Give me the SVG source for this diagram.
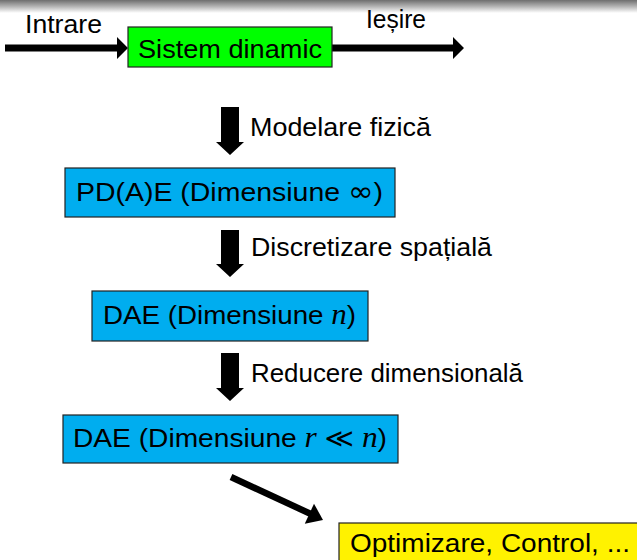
<svg xmlns="http://www.w3.org/2000/svg" width="637" height="560" viewBox="0 0 637 560">
<defs>
<linearGradient id="topband" x1="0" y1="0" x2="0" y2="1">
<stop offset="0" stop-color="#6e6e6e"/>
<stop offset="0.5" stop-color="#b4b4b4"/>
<stop offset="1" stop-color="#ffffff"/>
</linearGradient>
<style>
text{font-family:"Liberation Sans","DejaVu Sans",sans-serif;font-size:26px;fill:#000}
.m{font-family:"Liberation Serif","DejaVu Serif",serif;font-style:italic}
.sym{font-family:"DejaVu Sans",sans-serif}
.box{stroke:#222;stroke-width:1.2}
.arr{fill:#000}
</style>
</defs>
<rect x="0" y="0" width="637" height="13" fill="url(#topband)"/>
<g id="connectors">
<path class="arr" d="M5,44.5 H117 V37 L128,48 L117,59 V51.5 H5 Z"/>
<path class="arr" d="M332,44.5 H453 V37 L464,48 L453,59 V51.5 H332 Z"/>
<path class="arr" d="M221,107 H239 V142 H244 L230,155 L216,142 H221 Z"/>
<path class="arr" d="M221,230 H239 V264 H244 L230,277 L216,264 H221 Z"/>
<path class="arr" d="M221,353 H239 V388 H244 L230,401 L216,388 H221 Z"/>
<line x1="231" y1="477" x2="312" y2="514.5" stroke="#000" stroke-width="6.5"/>
<path class="arr" d="M323,520 L304.8,523.7 L314,503.7 Z"/>
<text x="25" y="33" textLength="77" lengthAdjust="spacingAndGlyphs">Intrare</text>
<text x="366" y="28" textLength="60" lengthAdjust="spacingAndGlyphs">Ieșire</text>
<text x="250" y="136" textLength="181" lengthAdjust="spacingAndGlyphs">Modelare fizică</text>
<text x="251" y="256" textLength="241" lengthAdjust="spacingAndGlyphs">Discretizare spațială</text>
<text x="251" y="382" textLength="272" lengthAdjust="spacingAndGlyphs">Reducere dimensională</text>
</g>
<g id="sistem">
<rect class="box" x="128" y="27" width="204" height="40" fill="#00ff00"/>
<text x="138" y="57.5" font-size="27" textLength="184" lengthAdjust="spacingAndGlyphs">Sistem dinamic</text>
</g>
<g id="pdae">
<rect class="box" x="65" y="168" width="330" height="49" fill="#00adef"/>
<text x="76" y="201" textLength="307" lengthAdjust="spacingAndGlyphs">PD(A)E (Dimensiune <tspan class="sym" font-size="28">∞</tspan>)</text>
</g>
<g id="dae">
<rect class="box" x="92" y="291" width="276" height="50" fill="#00adef"/>
<text x="103" y="324" textLength="253" lengthAdjust="spacingAndGlyphs">DAE (Dimensiune <tspan class="m" font-size="29">n</tspan>)</text>
</g>
<g id="dae-red">
<rect class="box" x="63" y="415" width="335" height="48" fill="#00adef"/>
<text x="73" y="447" textLength="314" lengthAdjust="spacingAndGlyphs">DAE (Dimensiune <tspan class="m" font-size="29">r</tspan> <tspan class="sym" font-size="26">≪</tspan> <tspan class="m" font-size="29">n</tspan>)</text>
</g>
<g id="optimizare">
<rect class="box" x="339" y="523" width="305" height="45" fill="#fff200"/>
<text x="350" y="552" textLength="280" lengthAdjust="spacingAndGlyphs">Optimizare, Control, ...</text>
</g>
</svg>
